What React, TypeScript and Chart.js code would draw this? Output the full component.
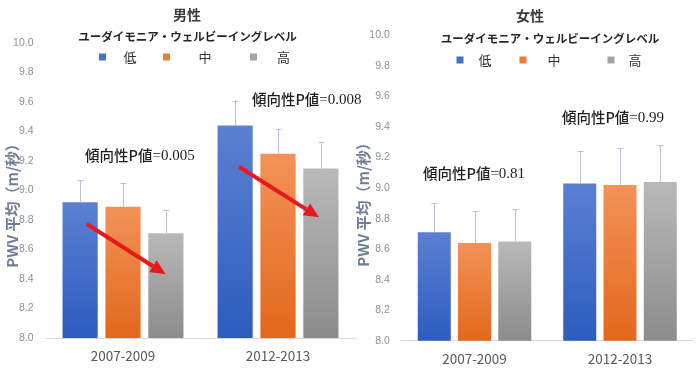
import React, { useEffect, useRef } from 'react';
import { Chart, registerables } from 'chart.js';

Chart.register(...registerables);

// ---------- data ----------
const categories = ['2007-2009', '2012-2013'];
const seriesNames = ['低', '中', '高'];
const yMin = 8.0;
const yMax = 10.0;
const yStep = 0.2;

const maleLow = [8.92, 9.44];
const maleMid = [8.89, 9.25];
const maleHigh = [8.71, 9.15];
const maleLowErr = [0.15, 0.17];
const maleMidErr = [0.16, 0.17];
const maleHighErr = [0.16, 0.18];

const femaleLow = [8.71, 9.03];
const femaleMid = [8.64, 9.02];
const femaleHigh = [8.65, 9.04];
const femaleLowErr = [0.19, 0.21];
const femaleMidErr = [0.21, 0.24];
const femaleHighErr = [0.21, 0.24];

const maleTitle = '男性';
const femaleTitle = '女性';
const legendTitle = 'ユーダイモニア・ウェルビーイングレベル';
const yAxisTitle = 'PWV 平均（m/秒）';

const malePLabels = ['傾向性P値=0.005', '傾向性P値=0.008'];
const femalePLabels = ['傾向性P値=0.81', '傾向性P値=0.99'];
// label anchors: [category index, value]
const malePAnchors = [[-0.245, 9.24], [0.832, 9.614]];
const femalePAnchors = [[-0.354, 9.096], [0.601, 9.462]];
// trend arrows (male): [x0, y0, x1, y1] in category index / value units
const maleArrows = [[-0.234, 8.773, 0.275, 8.432], [0.748, 9.161, 1.265, 8.818]];
const femaleArrows: number[][] = [];

// ---------- styles ----------
const gradTop = ['#5b80d2', '#f39258', '#b9b9b9'];
const gradBottom = ['#2d5cbf', '#e2681c', '#8c8c8c'];
const swatch = ['#4472c4', '#ed7d31', '#a5a5a5'];
const errColor = '#b9c3d3';
const CJK = '"Noto Sans CJK JP", "Noto Sans", sans-serif';

const maleLayout = {
  left: 0, width: 362, padTop: 43, padRight: 6.5, yAxisWidth: 45.5, xAxisHeight: 46,
  titleX: 187, titleY: 15, legendTitleX: 187.5, legendTitleY: 37, legendY: 57,
  swatchX: [102.5, 166.5, 253.5], labelX: [130, 205, 283.5], yTitleX: 12, yTitleY: 202,
};
const femaleLayout = {
  left: 355, width: 345, padTop: 35.5, padRight: 7.25, yAxisWidth: 46.75, xAxisHeight: 43.3,
  titleX: 175, titleY: 16, legendTitleX: 195, legendTitleY: 39, legendY: 60,
  swatchX: [105, 168, 256], labelX: [130, 199, 280], yTitleX: 8, yTitleY: 201,
};

type PanelProps = {
  layout: typeof maleLayout;
  title: string;
  values: number[][];
  errors: number[][];
  pLabels: string[];
  pAnchors: number[][];
  arrows: number[][];
};

function Panel({ layout, title, values, errors, pLabels, pAnchors, arrows }: PanelProps) {
  const ref = useRef<HTMLCanvasElement>(null);

  useEffect(() => {
    if (!ref.current) return;

    const overlay = {
      id: 'overlay',
      afterDatasetsDraw(chart: any) {
        const ctx = chart.ctx;
        const ys = chart.scales.y;
        const xs = chart.scales.x;
        // error bars
        ctx.save();
        ctx.strokeStyle = errColor;
        ctx.lineWidth = 1;
        values.forEach((series, i) => {
          const meta = chart.getDatasetMeta(i);
          series.forEach((v, j) => {
            const bar = meta.data[j];
            const yTop = ys.getPixelForValue(v + errors[i][j]);
            const x = Math.round(bar.x) + 0.5;
            ctx.beginPath();
            ctx.moveTo(x, bar.y);
            ctx.lineTo(x, yTop);
            ctx.moveTo(x - 3, Math.round(yTop) + 0.5);
            ctx.lineTo(x + 3, Math.round(yTop) + 0.5);
            ctx.stroke();
          });
        });
        ctx.restore();
        // arrows
        arrows.forEach((a) => {
          const x0 = xs.getPixelForValue(a[0]);
          const y0 = ys.getPixelForValue(a[1]);
          const x1 = xs.getPixelForValue(a[2]);
          const y1 = ys.getPixelForValue(a[3]);
          const ang = Math.atan2(y1 - y0, x1 - x0);
          const headLen = 15;
          const headW = 7;
          const bx = x1 - headLen * Math.cos(ang);
          const by = y1 - headLen * Math.sin(ang);
          ctx.save();
          ctx.strokeStyle = '#e8191c';
          ctx.fillStyle = '#e8191c';
          ctx.lineWidth = 4;
          ctx.lineCap = 'butt';
          ctx.beginPath();
          ctx.moveTo(x0, y0);
          ctx.lineTo(bx, by);
          ctx.stroke();
          ctx.beginPath();
          ctx.moveTo(x1, y1);
          ctx.lineTo(bx + headW * Math.sin(ang), by - headW * Math.cos(ang));
          ctx.lineTo(bx - headW * Math.sin(ang), by + headW * Math.cos(ang));
          ctx.closePath();
          ctx.fill();
          ctx.restore();
        });
      },
      afterDraw(chart: any) {
        const ctx = chart.ctx;
        const ys = chart.scales.y;
        const xs = chart.scales.x;
        ctx.save();
        ctx.textBaseline = 'middle';
        // title
        ctx.fillStyle = '#3a3a3a';
        ctx.textAlign = 'center';
        ctx.font = `bold 14px ${CJK}`;
        ctx.fillText(title, layout.titleX, layout.titleY);
        // legend title
        ctx.fillStyle = '#262626';
        ctx.font = `bold 11.5px ${CJK}`;
        ctx.fillText(legendTitle, layout.legendTitleX, layout.legendTitleY);
        // legend items
        ctx.font = `13px ${CJK}`;
        chart.data.datasets.forEach((ds: any, i: number) => {
          ctx.fillStyle = swatch[i];
          ctx.fillRect(layout.swatchX[i] - 3.5, layout.legendY - 3.5, 7, 7);
          ctx.fillStyle = '#333333';
          ctx.fillText(ds.label, layout.labelX[i], layout.legendY);
        });
        // P-value labels
        ctx.textAlign = 'left';
        pLabels.forEach((lab, k) => {
          const x = xs.getPixelForValue(pAnchors[k][0]);
          const y = ys.getPixelForValue(pAnchors[k][1]);
          const idx = lab.indexOf('=');
          const head = lab.slice(0, idx);
          const tail = lab.slice(idx);
          ctx.fillStyle = '#1e1e1e';
          ctx.font = `500 14.5px ${CJK}`;
          ctx.fillText(head, x, y);
          const w = ctx.measureText(head).width;
          ctx.font = `15px "Liberation Serif", serif`;
          ctx.fillText(tail, x + w, y + 0.5);
        });
        // y-axis title
        ctx.translate(layout.yTitleX, layout.yTitleY);
        ctx.rotate(-Math.PI / 2);
        ctx.textAlign = 'center';
        ctx.fillStyle = '#6f7e96';
        ctx.font = `bold 15px ${CJK}`;
        ctx.fillText(yAxisTitle, 0, 0);
        ctx.restore();
      },
    };

    const makeBg = (i: number) => (c: any) => {
      const chart = c.chart;
      const area = chart.chartArea;
      if (!area || c.type !== 'data') return swatch[i];
      const yTop = chart.scales.y.getPixelForValue(c.raw);
      const g = chart.ctx.createLinearGradient(0, yTop, 0, area.bottom);
      g.addColorStop(0, gradTop[i]);
      g.addColorStop(1, gradBottom[i]);
      return g;
    };

    const chart = new Chart(ref.current, {
      type: 'bar',
      data: {
        labels: categories,
        datasets: values.map((v, i) => ({
          label: seriesNames[i],
          data: v,
          backgroundColor: makeBg(i),
          borderWidth: 0,
          categoryPercentage: 0.83,
          barPercentage: 0.82,
        })),
      },
      options: {
        responsive: false,
        maintainAspectRatio: false,
        animation: false,
        layout: { padding: { top: layout.padTop, right: layout.padRight, left: 0, bottom: 0 } },
        plugins: {
          legend: { display: false },
          title: { display: false },
          tooltip: { enabled: false },
        },
        scales: {
          x: {
            grid: { display: false, drawTicks: false },
            border: { display: true, color: '#d9d9d9', width: 1 },
            ticks: {
              color: '#595959',
              font: { family: CJK, size: 13.5 },
              padding: 10,
            },
            afterFit: (s: any) => { s.height = layout.xAxisHeight; },
          },
          y: {
            min: yMin,
            max: yMax,
            grid: { display: false, drawTicks: false },
            border: { display: false },
            ticks: {
              stepSize: yStep,
              color: '#8c9099',
              font: { family: '"Liberation Sans", Arial, sans-serif', size: 10.5 },
              padding: 12,
              callback: (v: any) => Number(v).toFixed(1),
            },
            afterFit: (s: any) => { s.width = layout.yAxisWidth; },
          },
        },
      },
      plugins: [overlay],
    } as any);

    return () => chart.destroy();
  }, []);

  return (
    <canvas
      ref={ref}
      width={layout.width}
      height={384}
      style={{ position: 'absolute', left: layout.left, top: 0, width: layout.width, height: 384 }}
    />
  );
}

export default function App() {
  return (
    <div style={{ position: 'absolute', left: 0, top: 0, width: 700, height: 384, background: '#ffffff', overflow: 'hidden' }}>
      <Panel
        layout={maleLayout}
        title={maleTitle}
        values={[maleLow, maleMid, maleHigh]}
        errors={[maleLowErr, maleMidErr, maleHighErr]}
        pLabels={malePLabels}
        pAnchors={malePAnchors}
        arrows={maleArrows}
      />
      <Panel
        layout={femaleLayout}
        title={femaleTitle}
        values={[femaleLow, femaleMid, femaleHigh]}
        errors={[femaleLowErr, femaleMidErr, femaleHighErr]}
        pLabels={femalePLabels}
        pAnchors={femalePAnchors}
        arrows={femaleArrows}
      />
    </div>
  );
}
